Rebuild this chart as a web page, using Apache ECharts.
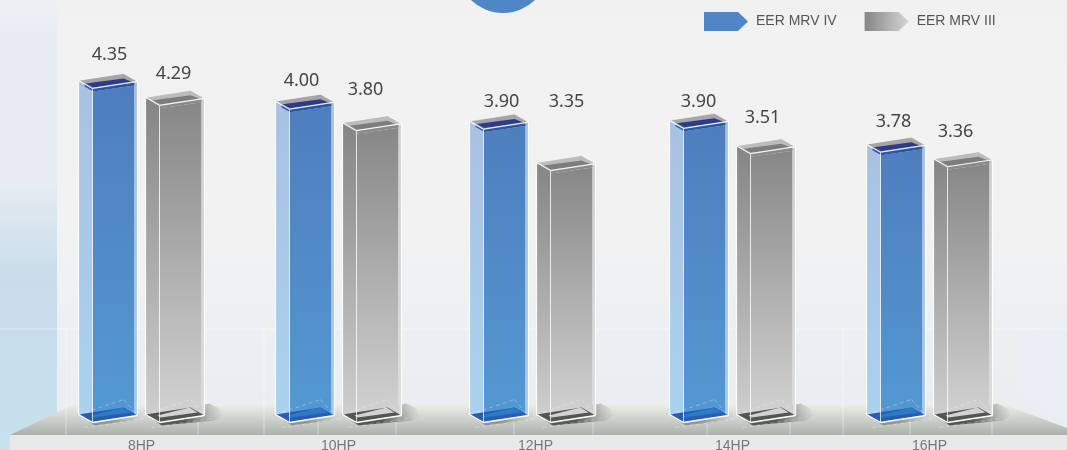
<!DOCTYPE html>
<html><head><meta charset="utf-8">
<style>html,body{margin:0;padding:0;background:#f1f1f1}#c{width:1067px;height:450px}</style>
<script src="https://cdn.jsdelivr.net/npm/echarts@6/dist/echarts.min.js"></script>
</head><body><div id="c"></div>
<script>
const categories = ['8HP','10HP','12HP','14HP','16HP'];
// Values printed above the bars
const eerMrvIV  = [4.35, 4.00, 3.90, 3.90, 3.78];
const eerMrvIII = [4.29, 3.80, 3.35, 3.51, 3.36];
// Bar heights as actually drawn in the reference (it is not strictly to scale with its printed numbers)
const drawnIV   = [4.35, 4.08, 3.82, 3.83, 3.52];
const drawnIII  = [4.13, 3.80, 3.28, 3.50, 3.33];

// Layout only: label placement relative to the bar's front top corner (px), and group x nudge
const labelDxIV  = [17, 12, 15, 15, 13];
const labelDyIV  = [-34, -28, -27, -26, -30];
const labelDxIII = [14, 9, 13, 12, 8];
const labelDyIII = [-31, -41, -69, -36, -35];
const groupNudge = [0, 0, -3, 0, 0];

const G = echarts.graphic.LinearGradient;
const vg = (a,b) => new G(0,0,0,1, [{offset:0,color:a},{offset:1,color:b}]);
const fade = a => new G(0,0,1,0, [{offset:0,color:a},{offset:.45,color:a},{offset:1,color:'rgba(120,120,120,0)'}]);

const themeIV = {
  xOff:-49, outerTop:'#a7a5a7', innerTop:'#2f3a88', band:'#2a56a8',
  front:vg('#4e7ebd','#5499d3'), side:vg('#a9c1e2','#a9d2ee'), sliver:vg('#a8bfe2','#a8c8ea'),
  floor:'#2a5cb2', floorBack:'#2a7cc6', shadow:fade('rgba(70,70,70,0.4)'), reach:50
};
const themeIII = {
  xOff:18, outerTop:'#bcbcbc', innerTop:'#7d7d7d', band:'#8a8a8a',
  front:vg('#878787','#d4d4d4'), side:vg('#858585','#cfcfcf'), sliver:vg('#cfcfcf','#dcdcdc'),
  floor:'#555555', floorBack:'#d2d2d2', shadow:fade('rgba(50,50,50,0.75)'), reach:64
};

function boxRender(theme, dxs, dys){
  return function(params, api){
    const i = api.value(0);
    const c = api.coord([i, api.value(1)]);
    const b = api.coord([i, 0]);
    const fx = c[0] + theme.xOff + groupNudge[i], ty = c[1], by = b[1];
    const P = (dx,dy,base) => [fx+dx, (base?by:ty)+dy];
    const poly = (pts, fill, extra) => ({type:'polygon', shape:{points:pts}, style:Object.assign({fill:fill, stroke:null}, extra||{})});
    const line = (a, d, w, o, dash) => ({type:'line', shape:{x1:a[0],y1:a[1],x2:d[0],y2:d[1]}, style:{stroke:'#fff', lineWidth:w||1.2, opacity:o||0.9, lineDash:dash||null}});
    const L=[-14,-8], R=[45,-7], K=[31,-15];
    const children = [
      // shadow on the floor
      poly([P(-6,-3,1),P(2,3,1),P(theme.reach-8,-2,1),P(theme.reach,-7,1),P(theme.reach-4,-14,1),P(theme.reach-14,-19,1),P(32,-15,1)], theme.shadow),
      // filled body
      poly([P(L[0],L[1]),P(0,0),P(0,-4,1),P(L[0],L[1],1)], theme.side),
      poly([P(0,3),P(42,-3),P(42,-6,1),P(0,0,1)], theme.front),
      poly([P(42,-6),P(45,-7),P(45,-7,1),P(42,-6,1)], theme.sliver),
      // floor of box
      poly([P(L[0],L[1],1),P(0,0,1),P(R[0],R[1],1),P(K[0],K[1],1)], theme.floor),
      poly([P(-2,-7,1),P(1,-5,1),P(38,-10,1),P(30,-15,1)], theme.floorBack),
      // top of box
      poly([P(L[0],L[1]),P(0,0),P(R[0],R[1]),P(K[0],K[1])], theme.outerTop),
      poly([P(-7,-5),P(1,-1),P(41,-6),P(31,-10)], theme.innerTop),
      poly([P(-8,-5),P(1,-1),P(42,-6),P(42,-3),P(1,3),P(-8,-2)], theme.band),
      // wireframe
      line(P(L[0],L[1]),P(0,0)), line(P(0,0),P(R[0],R[1])), line(P(R[0],R[1]),P(K[0],K[1]),1,.6), line(P(K[0],K[1]),P(L[0],L[1]),1,.6),
      line(P(L[0],L[1]),P(L[0],L[1],1)), line(P(0,0),P(0,0,1),1,.75), line(P(R[0],R[1]),P(R[0],R[1],1)),
      line(P(L[0],L[1],1),P(0,0,1),1.4,1), line(P(0,0,1),P(R[0],R[1],1),1.4,1),
      line(P(L[0],L[1],1),P(K[0],K[1]-8,1),1,.3,[4,3]), line(P(K[0],K[1]-8,1),P(R[0],R[1],1),1,.3,[4,3]),
      line(P(-8,5,1),P(52,-4,1),1,.3,[4,3]),
      {type:'text', style:{x:fx+dxs[i]-groupNudge[i], y:ty+dys[i], text:api.value(2).toFixed(2), fill:'#454545', font:'18px "Noto Sans"', align:'center', verticalAlign:'middle'}}
    ];
    return {type:'group', children};
  };
}

// Decorative backdrop
const paneX = [66,198,264,318,396,514,593,707,790,843,910,992];
const backdrop = [
  {type:'rect', z:0, shape:{x:0,y:0,width:1067,height:450}, style:{fill:new G(0,0,0,1,[{offset:0,color:'#f1f1f1'},{offset:.5,color:'#f2f2f2'},{offset:.72,color:'#edf0f2'},{offset:1,color:'#e8edf0'}])}},
  {type:'rect', z:0, shape:{x:0,y:0,width:57,height:450}, style:{fill:new G(0,0,0,1,[{offset:0,color:'#eef0f3'},{offset:.1,color:'#e8ecf3'},{offset:.4,color:'#e7edf3'},{offset:.62,color:'#c9dcea'},{offset:1,color:'#c7e1ee'}])}},
  {type:'polygon', z:0, shape:{points:[[1020,330],[1067,345],[1067,425],[1020,395]]}, style:{fill:'#e9eff4'}},
  {type:'circle', z:0, shape:{cx:503,cy:-33,r:46}, style:{fill:'#4f86c6'}},
  {type:'polygon', z:1, shape:{points:[[10,435],[72,405],[1000,403],[1067,428],[1067,435]]}, style:{fill:new G(0,0,0,1,[{offset:0,color:'#f0f0ea'},{offset:.3,color:'#dcdeda'},{offset:1,color:'#acb1ac'}])}},
  {type:'rect', z:1, shape:{x:10,y:435,width:1057,height:15}, style:{fill:'#e8eaea'}},
  {type:'line', z:1, shape:{x1:0,y1:329,x2:1067,y2:329}, style:{stroke:'#fff',lineWidth:1,opacity:.45}}
].concat(paneX.map(x => ({type:'line', z:1, shape:{x1:x,y1:329,x2:x,y2:435}, style:{stroke:'#fff',lineWidth:1,opacity:.4}})));

const chart = echarts.init(document.getElementById('c'), null, {renderer:'canvas'});
const toData = (h, v) => h.map((d,i) => [i, d, v[i]]);
const legendIcon = 'path://M0,0H34L44,9.5L34,19H0Z';
chart.setOption({
  animation:false,
  backgroundColor:'#f1f1f1',
  graphic:{elements:backdrop},
  legend:{
    left:704, top:12, padding:0, itemWidth:44, itemHeight:19, itemGap:28, selectedMode:false, z:6,
    textStyle:{fontFamily:'"Liberation Sans"', fontSize:14, color:'#555', padding:[0,0,0,3]},
    data:[
      {name:'EER MRV IV', icon:legendIcon, itemStyle:{color:'#4f86c6'}},
      {name:'EER MRV III', icon:legendIcon, itemStyle:{color:new G(0,0,1,0,[{offset:0,color:'#858585'},{offset:1,color:'#d6d6d6'}])}}
    ]
  },
  grid:{left:43, right:39, top:38.5, bottom:27.5, outerBoundsMode:'none'},
  xAxis:{type:'category', z:6, data:categories, axisLine:{show:false}, axisTick:{show:false},
    axisLabel:{color:'#777', fontFamily:'"Liberation Sans"', fontSize:14, margin:17}},
  yAxis:{type:'value', min:0, max:5, show:false, splitLine:{show:false}},
  series:[
    {name:'EER MRV IV', type:'custom', z:3, coordinateSystem:'cartesian2d', clip:false, encode:{x:0,y:1},
     itemStyle:{color:'#4f86c6'}, data:toData(drawnIV, eerMrvIV), renderItem:boxRender(themeIV, labelDxIV, labelDyIV)},
    {name:'EER MRV III', type:'custom', z:3, coordinateSystem:'cartesian2d', clip:false, encode:{x:0,y:1},
     itemStyle:{color:'#9a9a9a'}, data:toData(drawnIII, eerMrvIII), renderItem:boxRender(themeIII, labelDxIII, labelDyIII)}
  ]
});
</script></body></html>
